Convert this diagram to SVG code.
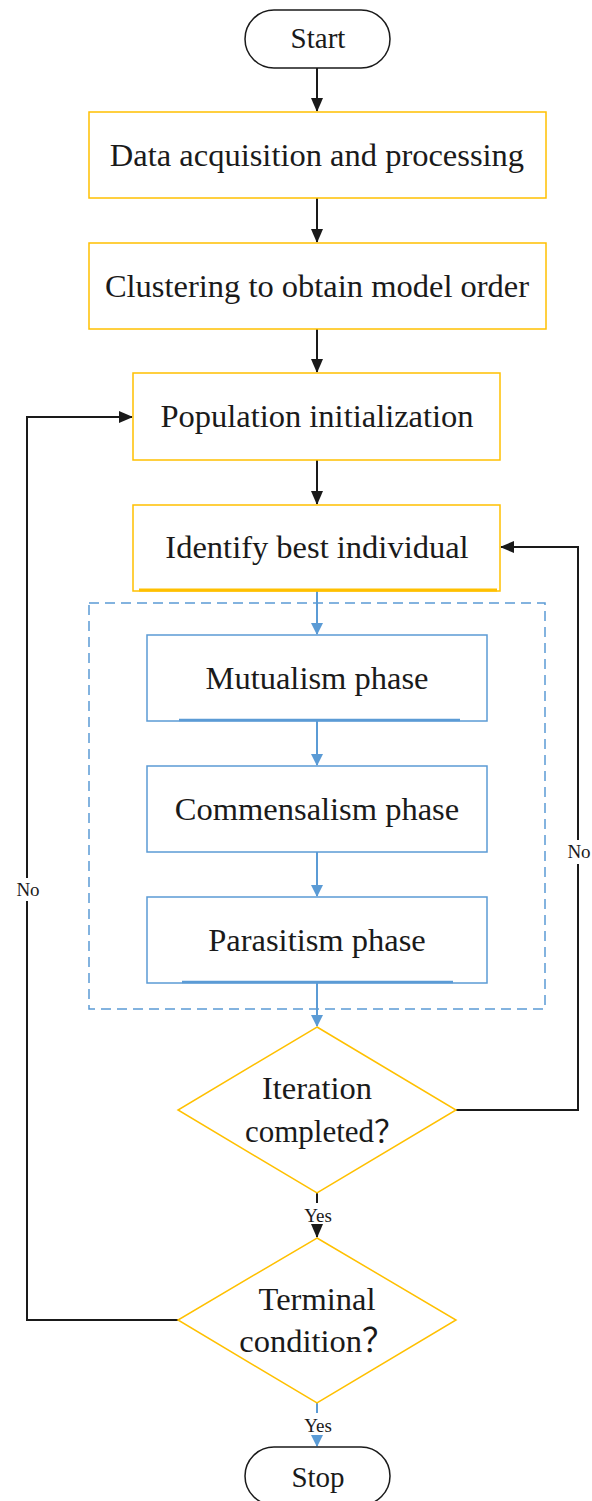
<svg xmlns="http://www.w3.org/2000/svg" width="592" height="1501" viewBox="0 0 592 1501">
<style>
text{font-family:"Liberation Serif","Times New Roman","Noto Sans CJK SC",serif;fill:#1a1a1a;text-anchor:middle}
.lbl{font-size:32.5px}
.sm{font-size:19px}
.term{fill:#fff;stroke:#1a1a1a;stroke-width:1.5}
.ybox{fill:#fff;stroke:#FFC000;stroke-width:1.5}
.bbox{fill:#fff;stroke:#5B9BD5;stroke-width:1.5}
.blk{fill:none;stroke:#1a1a1a;stroke-width:2}
.blu{fill:none;stroke:#5B9BD5;stroke-width:2}
</style>
<defs>
<marker id="ak" markerWidth="14" markerHeight="12" refX="13" refY="6" orient="auto" markerUnits="userSpaceOnUse"><path d="M0,0 L14,6 L0,12 z" fill="#1a1a1a"/></marker>
<marker id="ab" markerWidth="12" markerHeight="12" refX="11" refY="6" orient="auto" markerUnits="userSpaceOnUse"><path d="M0,0 L12,6 L0,12 z" fill="#5B9BD5"/></marker>
</defs>
<rect width="592" height="1501" fill="#fff"/>
<g id="container"><rect x="89" y="603" width="456" height="406" fill="none" stroke="#5B9BD5" stroke-width="1.5" stroke-dasharray="10,6"/></g>
<g id="connectors">
<line class="blk" x1="317" y1="68" x2="317" y2="111" marker-end="url(#ak)"/>
<line class="blk" x1="317" y1="198" x2="317" y2="242" marker-end="url(#ak)"/>
<line class="blk" x1="317" y1="329" x2="317" y2="372" marker-end="url(#ak)"/>
<line class="blk" x1="317" y1="460" x2="317" y2="504" marker-end="url(#ak)"/>
<line class="blu" x1="317" y1="591" x2="317" y2="634" marker-end="url(#ab)"/>
<line class="blu" x1="317" y1="721" x2="317" y2="765" marker-end="url(#ab)"/>
<line class="blu" x1="317" y1="852" x2="317" y2="896" marker-end="url(#ab)"/>
<line class="blu" x1="317" y1="983" x2="317" y2="1026" marker-end="url(#ab)"/>
<line class="blk" x1="317" y1="1193" x2="317" y2="1203"/>
<line class="blk" x1="317" y1="1229" x2="317" y2="1237" marker-end="url(#ak)"/>
<line class="blu" x1="317" y1="1403" x2="317" y2="1413"/>
<line class="blu" x1="317" y1="1438" x2="317" y2="1446" marker-end="url(#ab)"/>
<polyline class="blk" points="178,1320 27,1320 27,901"/>
<polyline class="blk" points="27,878 27,417 132,417" marker-end="url(#ak)"/>
<polyline class="blk" points="456,1110 578,1110 578,864"/>
<polyline class="blk" points="578,840 578,547 501,547" marker-end="url(#ak)"/>
<text class="sm" x="28" y="896">No</text>
<text class="sm" x="579" y="858">No</text>
<text class="sm" x="318" y="1222">Yes</text>
<text class="sm" x="318" y="1432">Yes</text>
</g>
<g id="start"><rect class="term" x="245" y="10" width="145" height="58" rx="29"/><text x="318" y="48" style="font-size:29px">Start</text></g>
<g id="data"><rect class="ybox" x="89" y="112" width="457" height="86"/><text class="lbl" x="317" y="166">Data acquisition and processing</text></g>
<g id="cluster"><rect class="ybox" x="89" y="243" width="457" height="86"/><text class="lbl" x="317" y="297">Clustering to obtain model order</text></g>
<g id="popinit"><rect class="ybox" x="133" y="373" width="367" height="87"/><text class="lbl" x="317" y="427">Population initialization</text></g>
<g id="best"><rect class="ybox" x="133" y="505" width="367" height="86"/><line x1="139" y1="590" x2="497" y2="590" stroke="#FFC000" stroke-width="3"/><text class="lbl" x="317" y="558">Identify best individual</text></g>
<g id="mutualism"><rect class="bbox" x="147" y="635" width="340" height="86"/><line x1="179" y1="720" x2="460" y2="720" stroke="#5B9BD5" stroke-width="2.5"/><text class="lbl" x="317" y="689">Mutualism phase</text></g>
<g id="commensalism"><rect class="bbox" x="147" y="766" width="340" height="86"/><text class="lbl" x="317" y="820">Commensalism phase</text></g>
<g id="parasitism"><rect class="bbox" x="147" y="897" width="340" height="86"/><line x1="182" y1="982" x2="453" y2="982" stroke="#5B9BD5" stroke-width="2.5"/><text class="lbl" x="317" y="951">Parasitism phase</text></g>
<g id="iteration"><polygon points="317,1027 456,1110 317,1193 178,1110" fill="#fff" stroke="#FFC000" stroke-width="1.5"/><text class="lbl" x="317" y="1099">Iteration</text><text x="325" y="1142" style="font-size:31px">completed？</text></g>
<g id="terminal"><polygon points="317,1238 456,1320 317,1403 178,1320" fill="#fff" stroke="#FFC000" stroke-width="1.5"/><text class="lbl" x="317" y="1310">Terminal</text><text class="lbl" x="317" y="1352">condition？</text></g>
<g id="stop"><rect class="term" x="245" y="1447" width="145" height="58" rx="29"/><text x="318" y="1487" style="font-size:29px">Stop</text></g>
</svg>
